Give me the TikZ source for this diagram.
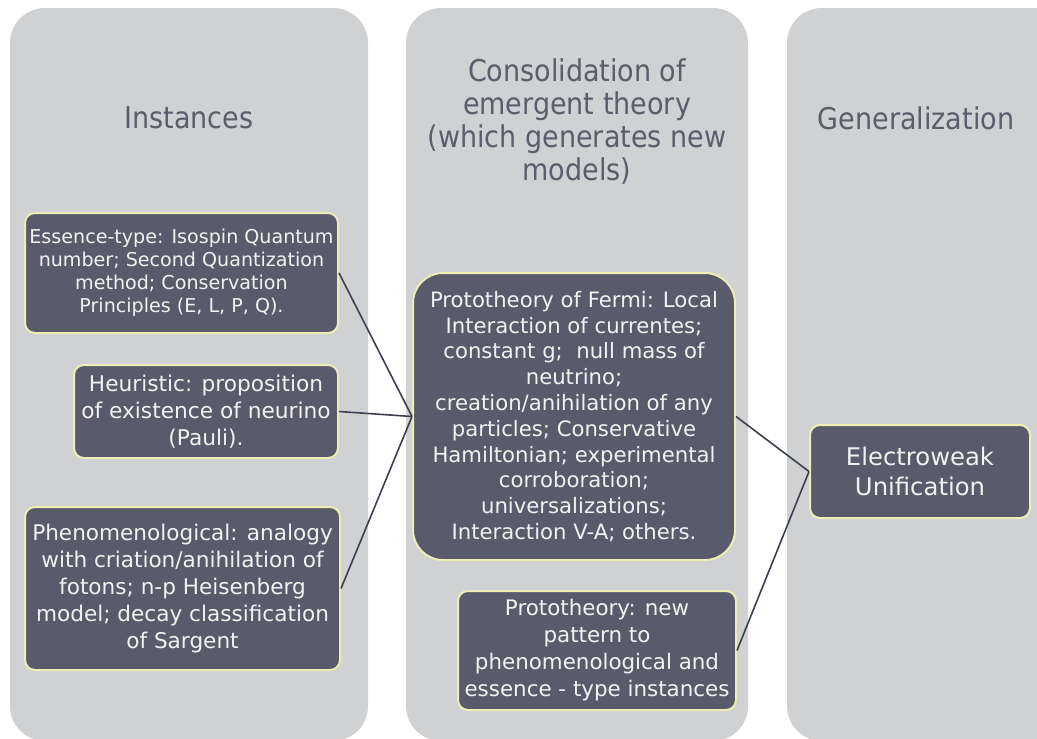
\documentclass[tikz,border=0pt]{standalone}
\usepackage{fontspec}
\setmainfont{DejaVu Sans}
\newfontfamily\hdrfont{DejaVu Sans Condensed}
\definecolor{colgray}{HTML}{D0D1D3}
\definecolor{boxfill}{HTML}{595A6C}
\definecolor{boxedge}{HTML}{EEEEB4}
\definecolor{hdrtext}{HTML}{5C5D6B}
\definecolor{linkc}{HTML}{3E3F4E}
\definecolor{boxtext}{HTML}{F2F2F2}
\tikzset{
  colbg/.style={fill=colgray, draw=none, rounded corners=35pt},
  hdr/.style={font=\hdrfont\fontsize{30}{33}\selectfont, text=hdrtext, align=center, inner sep=0pt},
  pbox/.style={fill=boxfill, draw=boxedge, line width=2pt, rounded corners=10pt, text=boxtext, align=center, inner sep=0pt},
  link/.style={draw=linkc, line width=1.6pt}
}
\begin{document}
\begin{tikzpicture}[x=1pt,y=-1pt]
\useasboundingbox (0,0) rectangle (1037,739);
\clip (0,0) rectangle (1037,739);
\fill[white] (0,0) rectangle (1037,739);
% columns
\path[colbg] (10,8) rectangle (368,741);
\path[colbg] (406,8) rectangle (748,741);
\path[colbg] (787,8) rectangle (1080,741);
% headers
\node[hdr] (h1) at (189,118) {Instances};
\node[hdr] (h2) at (577,122) {Consolidation of\\emergent theory\\(which generates new\\models)};
\node[hdr] (h3) at (916,118) {Generalization};
% boxes
\node[pbox, minimum width=313pt, minimum height=120pt, font=\fontsize{19.1}{23}\selectfont] (b1) at (181.5,273)
  {Essence-type: Isospin Quantum\\number; Second Quantization\\method; Conservation\\Principles (E, L, P, Q).};
\node[pbox, minimum width=264pt, minimum height=93pt, font=\fontsize{21.7}{27}\selectfont] (b2) at (206,411.5)
  {Heuristic: proposition\\of existence of neurino\\(Pauli).};
\node[pbox, minimum width=315pt, minimum height=163pt, font=\fontsize{21.6}{27}\selectfont] (b3) at (182.5,588.5)
  {Phenomenological: analogy\\with criation/anihilation of\\fotons; n-p Heisenberg\\model; decay classification\\of Sargent};
\node[pbox, rounded corners=30pt, minimum width=322pt, minimum height=287pt, font=\fontsize{21.2}{25.8}\selectfont] (ctr) at (574,416.5)
  {Prototheory of Fermi: Local\\Interaction of currentes;\\constant g;~ null mass of\\neutrino;\\creation/anihilation of any\\particles; Conservative\\Hamiltonian; experimental\\corroboration;\\universalizations;\\Interaction V-A; others.};
\node[pbox, minimum width=278pt, minimum height=119pt, font=\fontsize{21.4}{27}\selectfont] (sm) at (597,650.5)
  {Prototheory: new\\pattern to\\phenomenological and\\essence - type instances};
\node[pbox, minimum width=220pt, minimum height=93pt, font=\fontsize{24.3}{30}\selectfont] (ew) at (920,471.5)
  {Electroweak\\Unification};
% connectors
\draw[link] (b1.east) -- (ctr.west);
\draw[link] (b2.east) -- (ctr.west);
\draw[link] (b3.east) -- (ctr.west);
\draw[link] (ctr.east) -- (ew.west);
\draw[link] (sm.east) -- (ew.west);
\end{tikzpicture}
\end{document}
